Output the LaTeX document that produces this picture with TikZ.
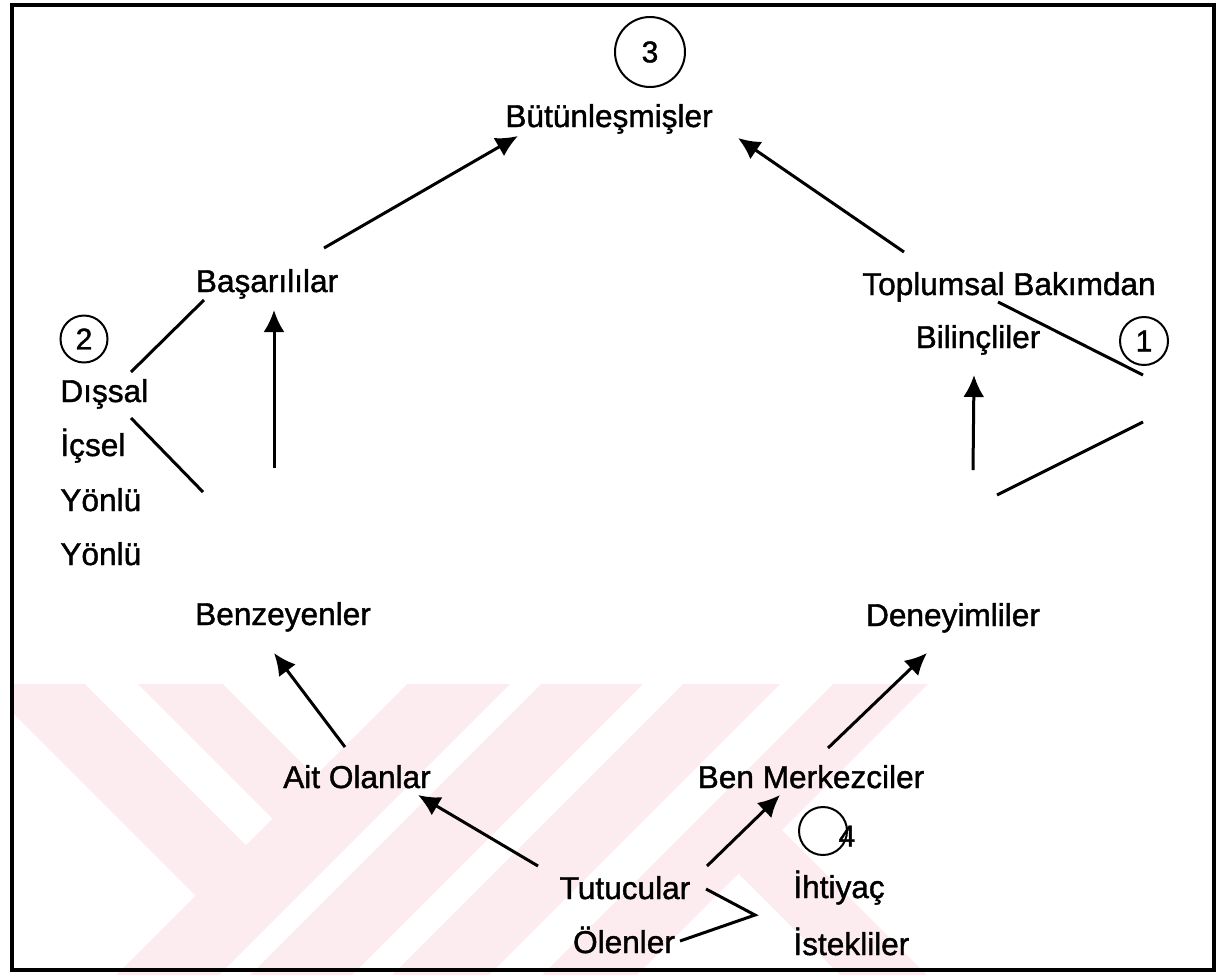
\documentclass[tikz,border=0pt]{standalone}
\usepackage{fontspec}
\setmainfont{Liberation Sans}
\newfontfamily\heavysans{Liberation Sans}[FakeBold=1.3]
\usetikzlibrary{arrows.meta}
\definecolor{wmpink}{RGB}{253,236,239}
\begin{document}
\begin{tikzpicture}[x=0.5pt,y=-0.5pt,
  term/.style={inner sep=0pt, font=\heavysans\fontsize{15.8}{18}\selectfont},
  ring/.style={draw, circle, line width=1pt, inner sep=0pt, font=\heavysans\fontsize{15}{17}\selectfont},
  digit/.style={inner sep=0pt, font=\heavysans\fontsize{15}{17}\selectfont},
  conn/.style={line width=1.5pt},
  arr/.style={conn, -{Latex[length=11pt,width=10.5pt]}}
]
\useasboundingbox (0,0) rectangle (1229,975);

% faint emblem in the lower part of the page
\begin{scope}
  \clip (10,684) rectangle (930,975);
  \fill[wmpink] (-16,684) -- (85,684) -- (246.5,845.5) -- (196,896) -- cycle;
  \fill[wmpink] (138,684) -- (223,684) -- (315.5,776.5) -- (273,819) -- cycle;
  \fill[wmpink] (407,684) -- (510,684) -- (219,975) -- (116,975) -- cycle;
  \fill[wmpink] (541,684) -- (643,684) -- (352,975) -- (250,975) -- cycle;
  \fill[wmpink] (683,684) -- (780,684) -- (489,975) -- (392,975) -- cycle;
  \fill[wmpink] (833,684) -- (928,684) -- (637,975) -- (542,975) -- cycle;
  \fill[wmpink] (738.5,873.5) -- (782,830) -- (927,975) -- (840,975) -- cycle;
\end{scope}

% frame
\draw[line width=1.8pt] (12,5) rectangle (1214,970);

% stage labels
\node[term, anchor=base] (but) at (609,127) {Bütünleşmişler};
\node[term, anchor=base] (bas) at (267,292) {Başarılılar};
\node[term, anchor=base] (top) at (1009,295) {Toplumsal Bakımdan};
\node[term, anchor=base] (bil) at (978,348) {Bilinçliler};
\node[term, anchor=base west] (dis) at (60,402) {Dışsal};
\node[term, anchor=base west] (ics) at (60,456) {İçsel};
\node[term, anchor=base west] (yon1) at (60,511) {Yönlü};
\node[term, anchor=base west] (yon2) at (60,565) {Yönlü};
\node[term, anchor=base] (ben) at (283,625) {Benzeyenler};
\node[term, anchor=base] (den) at (953,626) {Deneyimliler};
\node[term, anchor=base] (ait) at (357,788) {Ait Olanlar};
\node[term, anchor=base] (bmk) at (811,788) {Ben Merkezciler};
\node[term, anchor=base] (tut) at (625,899) {Tutucular};
\node[term, anchor=base] (ole) at (624,953) {Ölenler};
\node[term, anchor=base west] (iht) at (793,898) {İhtiyaç};
\node[term, anchor=base west] (ist) at (793,955) {İstekliler};

% numbered circles
\node[ring, minimum size=35pt] (c3) at (650,52) {3};
\node[ring, minimum size=23.5pt] (c2) at (84,339) {2};
\node[ring, minimum size=24pt] (c1) at (1144,341) {1};
\node[ring, minimum size=24pt] (c4) at (823,831) {};
\node[digit] (n4) at (847,836) {4};

% connector end points
\coordinate (basUp) at (324,248);
\coordinate (butL) at (518,136);
\coordinate (topUp) at (904,252);
\coordinate (butR) at (738,138);
\coordinate (basDn) at (204,300);
\coordinate (disUp) at (131,372);
\coordinate (disDn) at (131,418);
\coordinate (lEnd) at (203,492);
\coordinate (lArrT) at (274,468);
\coordinate (basBot) at (274,310);
\coordinate (topDn) at (998,302);
\coordinate (rEnd1) at (1143,375);
\coordinate (rEnd2) at (1143,422);
\coordinate (rEnd3) at (997,495);
\coordinate (rArrT) at (973,470);
\coordinate (bilBot) at (974,375);
\coordinate (aitUp) at (345,747);
\coordinate (benBot) at (274,653);
\coordinate (bmkUp) at (828,748);
\coordinate (denBot) at (927,653);
\coordinate (tutL) at (538,866);
\coordinate (aitBot) at (418,795);
\coordinate (tutR) at (707,866);
\coordinate (bmkBot) at (780,795);
\coordinate (tutE) at (706,889);
\coordinate (vtx) at (755,915);
\coordinate (oleE) at (680,941);

% arrows and strokes
\draw[arr] (basUp) -- (butL);
\draw[arr] (topUp) -- (butR);
\draw[conn] (basDn) -- (disUp);
\draw[conn] (disDn) -- (lEnd);
\draw[arr] (lArrT) -- (basBot);
\draw[conn] (topDn) -- (rEnd1);
\draw[conn] (rEnd2) -- (rEnd3);
\draw[arr] (rArrT) -- (bilBot);
\draw[arr] (aitUp) -- (benBot);
\draw[arr] (bmkUp) -- (denBot);
\draw[arr] (tutL) -- (aitBot);
\draw[arr] (tutR) -- (bmkBot);
\draw[conn] (tutE) -- (vtx) -- (oleE);
\end{tikzpicture}
\end{document}
